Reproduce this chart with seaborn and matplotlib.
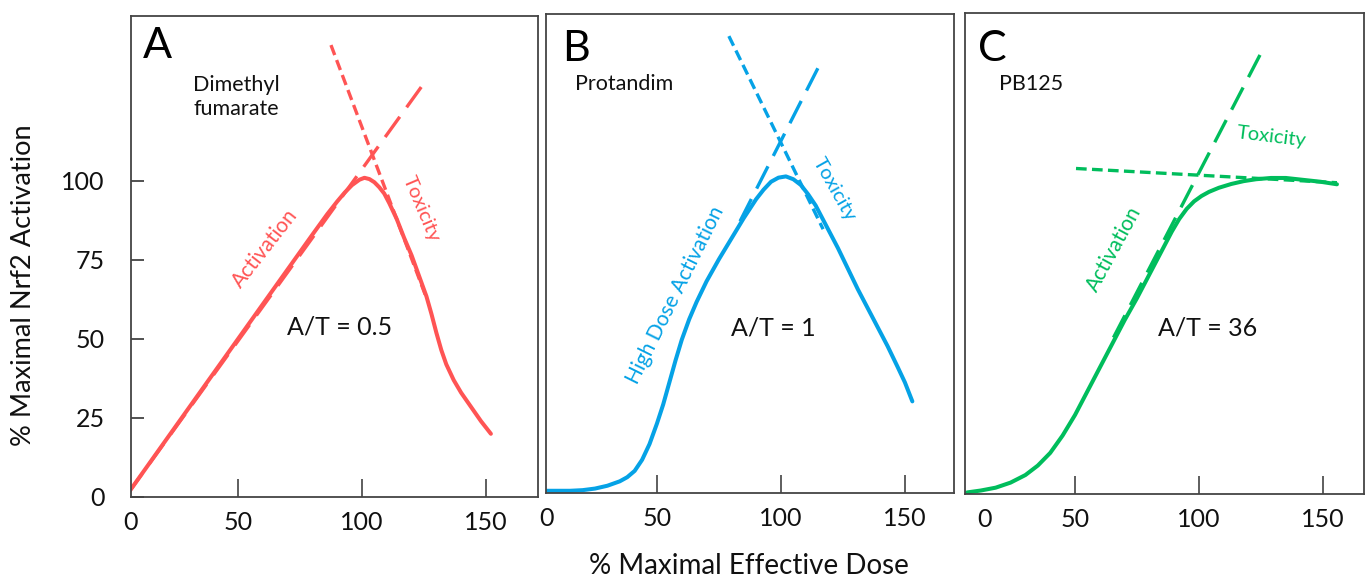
import numpy as np
import pandas as pd
import seaborn as sns
import matplotlib.pyplot as plt

# ---------------- data ----------------
# Panel A - Dimethyl fumarate
a_dose = [5.5, 30, 60, 80, 86, 90, 93, 96, 99, 101, 103, 105, 107, 109, 111, 114, 117, 120, 123, 126,
          128, 130, 132, 134, 137, 140, 144, 148, 152]
a_resp = [1, 28, 61, 83, 89.5, 93.5, 96.3, 98.7, 100.4, 101, 100.6, 99.6, 98, 96, 93, 88, 82, 76.5, 70,
          63.5, 58, 52, 46.5, 42, 37, 33, 28.5, 24, 20]
a_act_dose = [5.5, 126]
a_act_resp = [1, 132]
a_tox_dose = [87.5, 126]
a_tox_resp = [143, 63]

# Panel B - Protandim
b_dose = [5.6, 15, 20, 25, 30, 35, 38, 41, 44, 47, 50, 52.5, 55, 57.5, 60, 63, 66, 70, 75, 80, 85, 90,
          93, 96, 99, 102, 105, 108, 111, 114, 117, 120, 123, 127, 131, 135, 139, 143, 147, 150, 153]
b_resp = [0.7, 0.7, 0.9, 1.4, 2.3, 3.7, 5.0, 7.0, 10.5, 15.5, 22, 28, 35, 42, 48.5, 55, 60.5, 67, 74,
          80.5, 87, 93, 96, 98.5, 99.8, 100.2, 99.3, 97.5, 94.5, 91, 86.5, 82, 77.5, 71, 64.5, 58.5,
          52.5, 46.5, 40, 35, 29]
b_act_dose = [83.5, 115]
b_act_resp = [86, 134.6]
b_tox_dose = [79, 117]
b_tox_resp = [144.6, 83.5]

# Panel C - PB125
c_dose = [6.5, 12, 18, 24, 30, 35, 40, 45, 50, 55, 60, 65, 70, 75, 80, 85, 89, 92, 95, 98, 101, 104,
          108, 113, 118, 123, 129, 135, 142, 149, 155.6]
c_resp = [0.5, 1.1, 2.0, 3.6, 6.0, 9.0, 13, 18.5, 25, 32.5, 40, 47.5, 55, 62, 69.5, 77, 83, 87, 90.2,
          92.6, 94.3, 95.6, 96.9, 98.1, 99, 99.6, 100, 100, 99.4, 98.8, 98]
c_act_dose = [65.5, 126.6]
c_act_resp = [49.5, 142]
c_tox_dose = [50.4, 155.6]
c_tox_resp = [103, 98.5]

x_tick_values = [50, 100, 150]
x_tick_labels = ["0", "50", "100", "150"]
y_tick_values = [0, 25, 50, 75, 100]
y_tick_labels = ["0", "25", "50", "75", "100"]

panel_letters = ["A", "B", "C"]
compounds = ["Dimethyl\nfumarate", "Protandim", "PB125"]
ratios = ["A/T = 0.5", "A/T = 1", "A/T = 36"]
act_labels = ["Activation", "High Dose Activation", "Activation"]
tox_label = "Toxicity"

RED, BLUE, GREEN = "#FF5454", "#05A2E6", "#00BD5C"

# ---------------- style ----------------
sns.set_theme(style="white")
plt.rcParams["font.family"] = ["Lato", "DejaVu Sans"]

W, H = 1365, 579
fig = plt.figure(figsize=(W / 100, H / 100), dpi=100)


def add_ax(left, top, right, bottom):
    return fig.add_axes([left / W, 1 - bottom / H, (right - left) / W, (bottom - top) / H])


def ftext(px, py, s, **kw):
    fig.text(px / W, 1 - py / H, s, **kw)


axA = add_ax(131, 16, 538, 497)
axB = add_ax(546, 14, 954, 493)
axC = add_ax(965, 13, 1364, 494)

panels = [
    (axA, a_dose, a_resp, a_act_dose, a_act_resp, a_tox_dose, a_tox_resp, RED, (6.85, 171.0), (0, 152.2), 6.85),
    (axB, b_dose, b_resp, b_act_dose, b_act_resp, b_tox_dose, b_tox_resp, BLUE, (5.24, 169.8), (0, 151.6), 5.6),
    (axC, c_dose, c_resp, c_act_dose, c_act_resp, c_tox_dose, c_tox_resp, GREEN, (5.65, 166.5), (0, 152.2), 13.7),
]

for i, (ax, xd, yd, axd, ayd, txd, tyd, col, xl, yl, zero_pos) in enumerate(panels):
    sns.lineplot(data=pd.DataFrame({"dose": xd, "resp": yd}), x="dose", y="resp", ax=ax,
                 color=col, linewidth=2.9, sort=False, estimator=None,
                 solid_capstyle="round", solid_joinstyle="round")
    sns.lineplot(data=pd.DataFrame({"dose": axd, "resp": ayd}), x="dose", y="resp", ax=ax,
                 color=col, linewidth=2.4, sort=False, estimator=None,
                 linestyle=(0, (7.5, 3.5)), dash_capstyle="butt")
    sns.lineplot(data=pd.DataFrame({"dose": txd, "resp": tyd}), x="dose", y="resp", ax=ax,
                 color=col, linewidth=2.4, sort=False, estimator=None,
                 linestyle=(0, (3.2, 1.6)), dash_capstyle="butt")
    ax.set_xlim(*xl)
    ax.set_ylim(*yl)
    ax.set_xlabel("")
    ax.set_ylabel("")
    ax.set_xticks([zero_pos] + x_tick_values)
    ax.set_xticklabels(x_tick_labels)
    ax.tick_params(axis="x", direction="in", length=13, width=1.1, color="#333333",
                   labelsize=18, labelcolor="#111111", pad=10, bottom=True)
    ax.xaxis.get_major_ticks()[0].tick1line.set_visible(False)
    if i == 0:
        ax.set_yticks(y_tick_values)
        ax.set_yticklabels(y_tick_labels)
        ax.tick_params(axis="y", direction="in", length=9.5, width=1.1, color="#222222",
                       labelsize=18, labelcolor="#111111", pad=19, left=True)
    else:
        ax.set_yticks([])
    for sp in ax.spines.values():
        sp.set_visible(True)
        sp.set_color("#444444")
        sp.set_linewidth(1.3)
    ax.set_facecolor("white")

# ---------------- texts ----------------
letter_pos = [(157, 46), (576, 49), (992, 49)]
compound_pos = [(193, 97), (575, 84), (999, 84)]
ratio_pos = [(340, 327), (773, 328), (1208, 328)]
act_pos = [(265, 248, 52), (675, 295, 63.6), (1114, 249, 61.4)]
tox_pos = [(421, 209, -67), (834, 189, -60.6), (1272, 137, -7)]
cols = [RED, BLUE, GREEN]

for i in range(3):
    ftext(*letter_pos[i], panel_letters[i], fontsize=31, ha="center", va="center", color="black")
    ftext(*compound_pos[i], compounds[i], fontsize=15.5, ha="left", va="center",
          color="#111111", linespacing=1.25)
    ftext(*ratio_pos[i], ratios[i], fontsize=18, ha="center", va="center", color="#111111")
    ax_, ay_, ar_ = act_pos[i]
    ftext(ax_, ay_, act_labels[i], fontsize=15, ha="center", va="center", color=cols[i],
          rotation=ar_, rotation_mode="anchor")
    tx_, ty_, tr_ = tox_pos[i]
    ftext(tx_, ty_, tox_label, fontsize=14.5, ha="center", va="center", color=cols[i],
          rotation=tr_, rotation_mode="anchor")

ftext(24, 285, "% Maximal Nrf2 Activation", fontsize=19.5, rotation=90, ha="center", va="center",
      color="#111111")
ftext(749, 566, "% Maximal Effective Dose", fontsize=20, ha="center", va="center", color="#111111")

fig.savefig("out.png", dpi=100, facecolor="white")
